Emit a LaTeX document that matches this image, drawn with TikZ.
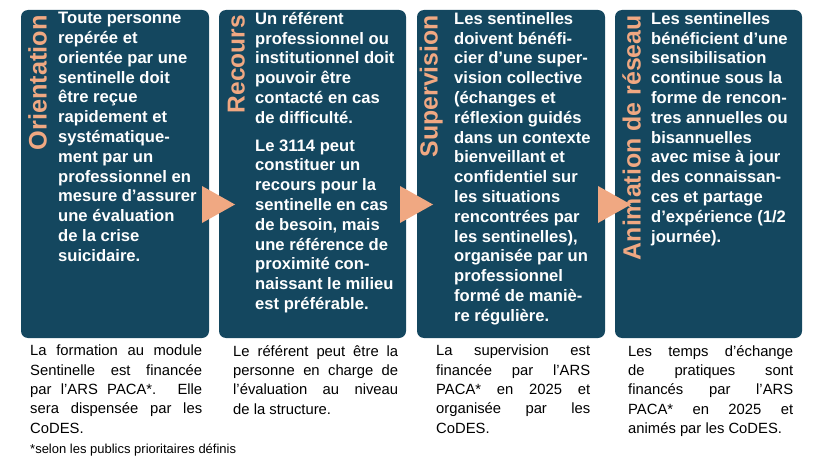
\documentclass[tikz,border=0pt]{standalone}
\usepackage{fontspec}
\setmainfont{Liberation Sans}
\definecolor{boxc}{HTML}{14475F}
\definecolor{arrc}{HTML}{F0A882}
\newcommand{\jl}[2]{\makebox[#1][s]{#2}}
\newcommand{\vlab}[2]{\resizebox{#1}{!}{#2}}
\begin{document}
\begin{tikzpicture}[x=1pt,y=-1pt,
 panel/.style={fill=boxc,rounded corners=7pt},
 body/.style={anchor=north west,align=left,text=white,inner sep=0pt,font=\bfseries\fontsize{16.6}{19.8}\selectfont},
 vlabel/.style={anchor=south east,rotate=90,text=arrc,inner sep=0pt,font=\bfseries\fontsize{20}{22}\selectfont},
 captxt/.style={anchor=north west,align=left,inner sep=0pt,font=\fontsize{14.8}{19.3}\selectfont},
 arr/.style={fill=arrc}]
\useasboundingbox (0,0) rectangle (822,476);
\fill[panel] (21,10) rectangle (209,338);
\fill[panel] (219,10) rectangle (406,338);
\fill[panel] (417,10) rectangle (605,338);
\fill[panel] (615,10) rectangle (802,338);
\coordinate (a1) at (202,186); \coordinate (a2) at (400,186); \coordinate (a3) at (598,186);
\fill[arr] (a1) -- ++(33,18.5) -- ++(-33,18.5) -- cycle;
\fill[arr] (a2) -- ++(33,18.5) -- ++(-33,18.5) -- cycle;
\fill[arr] (a3) -- ++(33,18.5) -- ++(-33,18.5) -- cycle;
\node[vlabel] (l1) at (47,15) {\vlab{135pt}{Orientation}};
\node[vlabel] (l2) at (245,15) {\vlab{98pt}{Recours}};
\node[vlabel] (l3) at (443,15) {\vlab{142pt}{Supervision}};
\node[vlabel] (l4) at (641,15) {\vlab{245pt}{Animation de réseau}};
\node[body] (t1) at (58,12) {Toute personne\\repérée et\\orientée par une\\sentinelle doit\\être reçue\\rapidement et\\systématique-\\ment par un\\professionnel en\\mesure d’assurer\\une évaluation\\de la crise\\suicidaire.};
\node[body] (t2) at (255,12) {Un référent\\professionnel ou\\institutionnel doit\\pouvoir être\\contacté en cas\\de difficulté.\\[8pt]Le 3114 peut\\constituer un\\recours pour la\\sentinelle en cas\\de besoin, mais\\une référence de\\proximité con-\\naissant le milieu\\est préférable.};
\node[body] (t3) at (454,12) {Les sentinelles\\doivent bénéfi-\\cier d’une super-\\vision collective\\(échanges et\\réflexion guidés\\dans un contexte\\bienveillant et\\confidentiel sur\\les situations\\rencontrées par\\les sentinelles),\\organisée par un\\professionnel\\formé de maniè-\\re régulière.};
\node[body] (t4) at (651,12) {Les sentinelles\\bénéficient d’une\\sensibilisation\\continue sous la\\forme de rencon-\\tres annuelles ou\\bisannuelles\\avec mise à jour\\des connaissan-\\ces et partage\\d’expérience (1/2\\journée).};
\node[captxt] (c1) at (30,345) {\jl{172pt}{La formation au module}\\\jl{172pt}{Sentinelle est financée}\\\jl{172pt}{par l’ARS PACA*. Elle}\\\jl{172pt}{sera dispensée par les}\\CoDES.};
\node[captxt] (c2) at (233,345) {\jl{165pt}{Le référent peut être la}\\\jl{165pt}{personne en charge de}\\\jl{165pt}{l’évaluation au niveau}\\de la structure.};
\node[captxt] (c3) at (436,345) {\jl{154pt}{La supervision est}\\\jl{154pt}{financée par l’ARS}\\\jl{154pt}{PACA* en 2025 et}\\\jl{154pt}{organisée par les}\\CoDES.};
\node[captxt] (c4) at (628,345) {\jl{165pt}{Les temps d’échange}\\\jl{165pt}{de pratiques sont}\\\jl{165pt}{financés par l’ARS}\\\jl{165pt}{PACA* en 2025 et}\\animés par les CoDES.};
\node[anchor=north west,inner sep=0pt,font=\fontsize{13}{15}\selectfont] (fn) at (30,444) {*selon les publics prioritaires définis};
\end{tikzpicture}
\end{document}
